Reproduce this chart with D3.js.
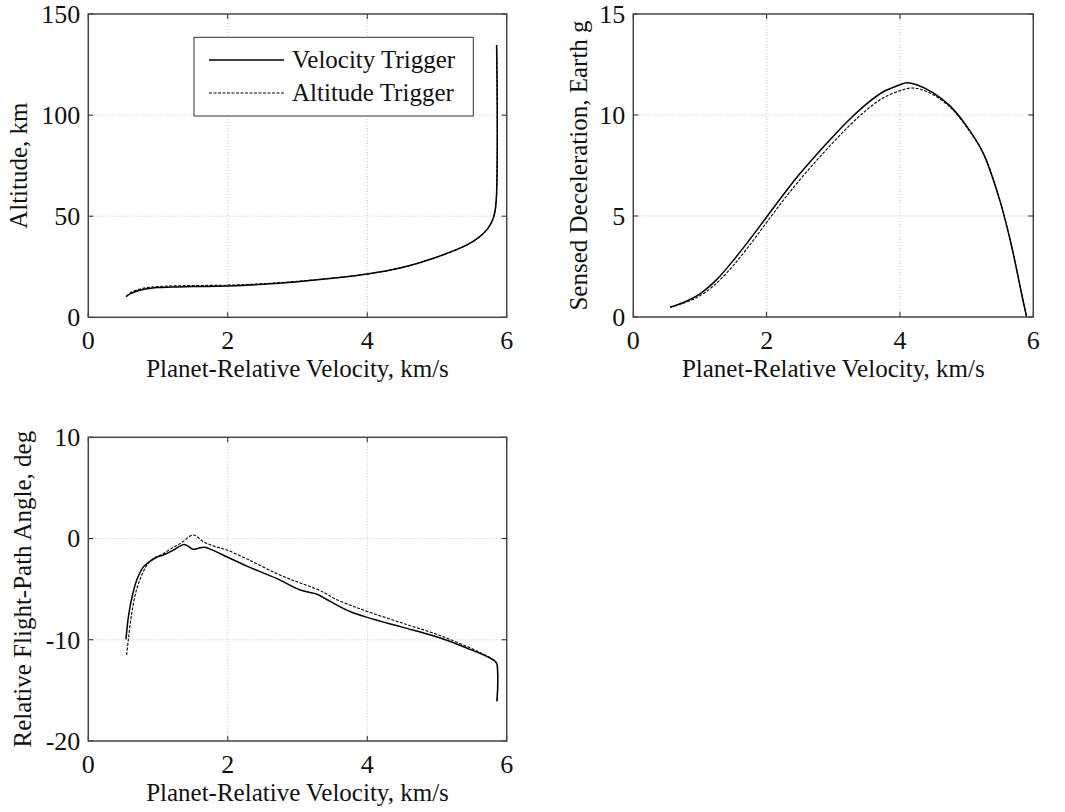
<!DOCTYPE html>
<html>
<head>
<meta charset="utf-8">
<title>Trigger comparison</title>
<script src="https://d3js.org/d3.v7.min.js"></script>
<style>
  body { margin: 0; background: #fff; }
  text { font-family: "Liberation Serif", "DejaVu Serif", serif; fill: #111; }
</style>
</head>
<body>
<svg width="1065" height="812"></svg>
<script>
// Velocity values (km/s) and the quantity
var altVelTrigV = [0.54, 0.6, 0.7, 0.8, 0.9, 1.0, 1.2, 1.5, 2.0, 2.5, 3.0, 3.5, 4.0, 4.5, 4.95, 5.43, 5.6, 5.72, 5.79, 5.83, 5.85, 5.86, 5.865, 5.862, 5.855];
var altVelTrigH = [10.2, 11.6, 13.0, 13.9, 14.4, 14.7, 15.0, 15.2, 15.5, 16.3, 17.6, 19.3, 21.4, 24.6, 29.2, 35.8, 39.5, 43.5, 47.5, 52, 58, 68, 90, 115, 134.7];
var altAltTrigV = [0.55, 0.6, 0.7, 0.8, 0.9, 1.0, 1.2, 1.5, 2.0, 2.5, 3.0, 3.5, 4.0, 4.5, 4.95, 5.43, 5.6, 5.72, 5.79, 5.83, 5.85, 5.86, 5.865, 5.862, 5.855];
var altAltTrigH = [10.4, 12.1, 13.6, 14.5, 14.9, 15.2, 15.5, 15.7, 15.9, 16.6, 17.8, 19.4, 21.4, 24.6, 29.2, 35.8, 39.5, 43.5, 47.5, 52, 58, 68, 90, 115, 134.7];

var decVelTrigV = [0.55, 0.75, 1.0, 1.25, 1.5, 1.75, 2.0, 2.25, 2.5, 2.75, 3.0, 3.25, 3.5, 3.75, 4.0, 4.1, 4.25, 4.5, 4.75, 5.0, 5.25, 5.5, 5.65, 5.75, 5.85, 5.9];
var decVelTrigG = [0.48, 0.72, 1.15, 1.85, 2.8, 3.85, 4.95, 6.05, 7.1, 8.05, 8.95, 9.8, 10.55, 11.15, 11.5, 11.6, 11.5, 11.1, 10.45, 9.45, 8.1, 5.75, 3.85, 2.35, 0.75, 0];
var decAltTrigV = [0.55, 0.75, 1.0, 1.25, 1.5, 1.75, 2.0, 2.25, 2.5, 2.75, 3.0, 3.25, 3.5, 3.75, 4.0, 4.15, 4.3, 4.5, 4.75, 5.0, 5.25, 5.5, 5.65, 5.75, 5.85, 5.9];
var decAltTrigG = [0.48, 0.68, 1.05, 1.68, 2.55, 3.58, 4.68, 5.78, 6.8, 7.75, 8.65, 9.5, 10.25, 10.85, 11.2, 11.33, 11.28, 11.0, 10.4, 9.4, 8.1, 5.75, 3.85, 2.35, 0.75, 0];

var fpaVelTrigV = [0.54, 0.58, 0.64, 0.7, 0.79, 0.885, 0.98, 1.076, 1.22, 1.30, 1.37, 1.43, 1.506, 1.58, 1.67, 1.8, 1.985, 2.3, 2.7, 3.04, 3.2, 3.28, 3.4, 3.52, 3.64, 3.76, 4.0, 4.5, 4.96, 5.2, 5.44, 5.6, 5.77, 5.83, 5.86, 5.87, 5.87, 5.86];
var fpaVelTrigA = [-9.96, -7.5, -5.4, -4.0, -2.8, -2.25, -1.85, -1.63, -1.15, -0.8, -0.6, -0.75, -1.07, -0.95, -0.87, -1.2, -1.8, -2.8, -3.94, -5.09, -5.35, -5.5, -5.95, -6.4, -6.85, -7.23, -7.79, -8.75, -9.63, -10.2, -10.85, -11.3, -11.84, -12.1, -12.4, -13.2, -14.8, -16.1];
var fpaAltTrigV = [0.55, 0.574, 0.62, 0.69, 0.78, 0.86, 0.95, 1.05, 1.2, 1.35, 1.506, 1.65, 1.8, 1.985, 2.3, 2.7, 3.0, 3.24, 3.4, 3.52, 3.76, 4.0, 4.5, 4.96, 5.2, 5.44, 5.6, 5.77, 5.83, 5.86, 5.87, 5.87, 5.86];
var fpaAltTrigA = [-11.5, -10, -7.5, -5.1, -3.4, -2.45, -1.9, -1.6, -0.95, -0.35, 0.35, -0.3, -0.75, -1.13, -2.1, -3.45, -4.3, -4.9, -5.4, -5.9, -6.6, -7.2, -8.35, -9.37, -10.0, -10.7, -11.2, -11.8, -12.1, -12.4, -13.2, -14.8, -16.1];

var xTicks = [0, 2, 4, 6];
var legendLabels = ["Velocity Trigger", "Altitude Trigger"];

var svg = d3.select("svg");

function zip(xs, ys) { return xs.map(function(x, i) { return [x, ys[i]]; }); }

// draws one MATLAB-style panel
function panel(opt) {
  var x = d3.scaleLinear().domain([0, 6]).range([opt.left, opt.right]);
  var y = d3.scaleLinear().domain(opt.yDomain).range([opt.bottom, opt.top]);
  var g = svg.append("g");

  // grid
  g.selectAll(".gx").data(xTicks.slice(1, -1)).enter().append("line")
    .attr("x1", x).attr("x2", x).attr("y1", opt.top).attr("y2", opt.bottom)
    .attr("stroke", "#b8b8b8").attr("stroke-width", 0.8).attr("stroke-dasharray", "1,2");
  g.selectAll(".gy").data(opt.yTicks.slice(1, -1)).enter().append("line")
    .attr("y1", y).attr("y2", y).attr("x1", opt.left).attr("x2", opt.right)
    .attr("stroke", "#b8b8b8").attr("stroke-width", 0.8).attr("stroke-dasharray", "1,2");

  // inward ticks on all four sides
  var tl = 5;
  g.selectAll(".tb").data(xTicks).enter().append("path")
    .attr("d", function(d) { return "M" + x(d) + "," + opt.bottom + "v" + (-tl) + "M" + x(d) + "," + opt.top + "v" + tl; })
    .attr("stroke", "#222").attr("stroke-width", 1);
  g.selectAll(".tl").data(opt.yTicks).enter().append("path")
    .attr("d", function(d) { return "M" + opt.left + "," + y(d) + "h" + tl + "M" + opt.right + "," + y(d) + "h" + (-tl); })
    .attr("stroke", "#222").attr("stroke-width", 1);

  // tick labels
  g.selectAll(".lx").data(xTicks).enter().append("text")
    .attr("x", x).attr("y", opt.bottom + 32).attr("text-anchor", "middle")
    .style("font-size", "26px").text(function(d) { return d; });
  g.selectAll(".ly").data(opt.yTicks).enter().append("text")
    .attr("x", opt.left - 8).attr("y", y).attr("dy", "0.34em").attr("text-anchor", "end")
    .style("font-size", "26px").text(function(d) { return d; });

  // axis labels
  g.append("text").attr("x", (opt.left + opt.right) / 2).attr("y", opt.bottom + 60)
    .attr("text-anchor", "middle").style("font-size", "25px").text("Planet-Relative Velocity, km/s");
  g.append("text")
    .attr("transform", "translate(" + opt.yLabelX + "," + ((opt.top + opt.bottom) / 2) + ") rotate(-90)")
    .attr("text-anchor", "middle").style("font-size", "25px").text(opt.yLabel);

  // data lines
  var line = d3.line().x(function(d) { return x(d[0]); }).y(function(d) { return y(d[1]); })
    .curve(d3.curveCatmullRom.alpha(0.5));
  g.append("path").datum(opt.dashed).attr("d", line).attr("fill", "none")
    .attr("stroke", "#000").attr("stroke-width", 1.1).attr("stroke-dasharray", "3,1.5");
  g.append("path").datum(opt.solid).attr("d", line).attr("fill", "none")
    .attr("stroke", "#000").attr("stroke-width", 1.5);

  // frame
  g.append("rect").attr("x", opt.left).attr("y", opt.top)
    .attr("width", opt.right - opt.left).attr("height", opt.bottom - opt.top)
    .attr("fill", "none").attr("stroke", "#444").attr("stroke-width", 1.5);
  return g;
}

var p1 = panel({
  left: 88.3, right: 506.7, top: 14, bottom: 317.3,
  yDomain: [0, 150], yTicks: [0, 50, 100, 150],
  yLabel: "Altitude, km", yLabelX: 27,
  solid: zip(altVelTrigV, altVelTrigH), dashed: zip(altAltTrigV, altAltTrigH)
});

panel({
  left: 633.3, right: 1033.3, top: 14, bottom: 317,
  yDomain: [0, 15], yTicks: [0, 5, 10, 15],
  yLabel: "Sensed Deceleration, Earth g", yLabelX: 587,
  solid: zip(decVelTrigV, decVelTrigG), dashed: zip(decAltTrigV, decAltTrigG)
});

panel({
  left: 88.3, right: 506.7, top: 437.3, bottom: 741,
  yDomain: [-20, 10], yTicks: [-20, -10, 0, 10],
  yLabel: "Relative Flight-Path Angle, deg", yLabelX: 31,
  solid: zip(fpaVelTrigV, fpaVelTrigA), dashed: zip(fpaAltTrigV, fpaAltTrigA)
});

// legend in the altitude panel
var lg = p1.append("g");
lg.append("rect").attr("x", 194).attr("y", 37.3).attr("width", 279.3).attr("height", 78.7)
  .attr("fill", "#fff").attr("stroke", "#333").attr("stroke-width", 1);
legendLabels.forEach(function(lab, i) {
  var yy = 60 + i * 33;
  lg.append("line").attr("x1", 209).attr("x2", 284).attr("y1", yy).attr("y2", yy)
    .attr("stroke", "#000").attr("stroke-width", i === 0 ? 1.5 : 1.1)
    .attr("stroke-dasharray", i === 0 ? null : "3,1.5");
  lg.append("text").attr("x", 292).attr("y", yy + 8).style("font-size", "25px").text(lab);
});
</script>
</body>
</html>
